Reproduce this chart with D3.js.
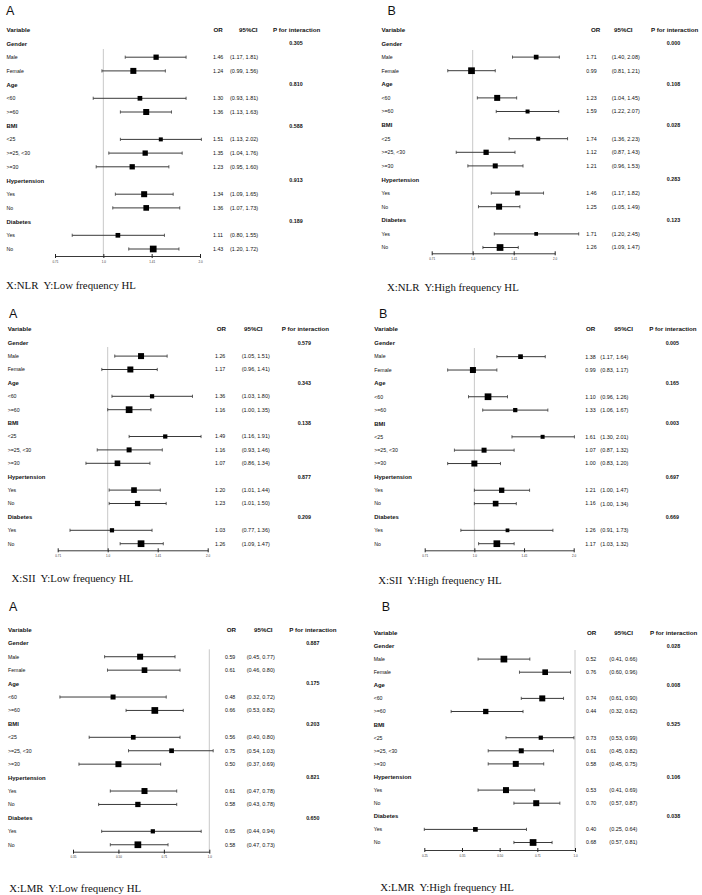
<!DOCTYPE html>
<html>
<head>
<meta charset="utf-8">
<script src="https://cdn.jsdelivr.net/npm/d3@7"></script>
<style>
  body { margin: 0; background: #fff; }
  svg { display: block; }
  .t { font-family: "Liberation Sans", Arial, sans-serif; fill: #111; }
  .b { font-weight: bold; }
  .cap { font-family: "Liberation Serif", "Times New Roman", serif; font-size: 10.8px; fill: #111; white-space: pre; }
  .let { font-family: "Liberation Sans", Arial, sans-serif; font-size: 12.5px; fill: #111; }
</style>
</head>
<body>
<div id="chart"></div>
<script>
var groups = ['Gender', 'Age', 'BMI', 'Hypertension', 'Diabetes'];
var subgroups = [['Male', 'Female'], ['<60', '>=60'], ['<25', '>=25, <30', '>=30'], ['Yes', 'No'], ['Yes', 'No']];

// NLR, low frequency HL
var nlrLowOR = [1.46, 1.24, 1.30, 1.36, 1.51, 1.35, 1.23, 1.34, 1.36, 1.11, 1.43];
var nlrLowLo = [1.17, 0.99, 0.93, 1.13, 1.13, 1.04, 0.95, 1.09, 1.07, 0.80, 1.20];
var nlrLowHi = [1.81, 1.56, 1.81, 1.63, 2.02, 1.76, 1.60, 1.65, 1.73, 1.55, 1.72];
var nlrLowP = ['0.305', '0.810', '0.588', '0.913', '0.189'];
var nlrLowW = [28, 36, 22, 36, 16, 28, 28, 36, 32, 22, 45];

// NLR, high frequency HL
var nlrHighOR = [1.71, 0.99, 1.23, 1.59, 1.74, 1.12, 1.21, 1.46, 1.25, 1.71, 1.26];
var nlrHighLo = [1.40, 0.81, 1.04, 1.22, 1.36, 0.87, 0.96, 1.17, 1.05, 1.20, 1.09];
var nlrHighHi = [2.08, 1.21, 1.45, 2.07, 2.23, 1.43, 1.53, 1.82, 1.49, 2.45, 1.47];
var nlrHighP = ['0.000', '0.108', '0.028', '0.283', '0.123'];
var nlrHighW = [22, 45, 36, 16, 16, 28, 25, 22, 36, 14, 45];

// SII, low frequency HL
var siiLowOR = [1.26, 1.17, 1.36, 1.16, 1.49, 1.16, 1.07, 1.20, 1.23, 1.03, 1.26];
var siiLowLo = [1.05, 0.96, 1.03, 1.00, 1.16, 0.93, 0.86, 1.01, 1.01, 0.77, 1.09];
var siiLowHi = [1.51, 1.41, 1.80, 1.35, 1.91, 1.46, 1.34, 1.44, 1.50, 1.36, 1.47];
var siiLowP = ['0.579', '0.343', '0.138', '0.877', '0.209'];
var siiLowW = [36, 36, 18, 45, 18, 25, 32, 32, 28, 18, 45];

// SII, high frequency HL
var siiHighOR = [1.38, 0.99, 1.10, 1.33, 1.61, 1.07, 1.00, 1.21, 1.16, 1.26, 1.17];
var siiHighLo = [1.17, 0.83, 0.96, 1.06, 1.30, 0.87, 0.83, 1.00, 1.00, 0.91, 1.03];
var siiHighHi = [1.64, 1.17, 1.26, 1.67, 2.01, 1.32, 1.20, 1.47, 1.34, 1.73, 1.32];
var siiHighP = ['0.005', '0.165', '0.003', '0.697', '0.669'];
var siiHighW = [22, 36, 45, 18, 16, 25, 36, 28, 32, 14, 45];

// LMR, low frequency HL
var lmrLowOR = [0.59, 0.61, 0.48, 0.66, 0.56, 0.75, 0.50, 0.61, 0.58, 0.65, 0.58];
var lmrLowLo = [0.45, 0.46, 0.32, 0.53, 0.40, 0.54, 0.37, 0.47, 0.43, 0.44, 0.47];
var lmrLowHi = [0.77, 0.80, 0.72, 0.82, 0.80, 1.03, 0.69, 0.78, 0.78, 0.94, 0.73];
var lmrLowP = ['0.887', '0.175', '0.203', '0.821', '0.650'];
var lmrLowW = [36, 32, 25, 45, 22, 22, 36, 36, 28, 18, 45];

// LMR, high frequency HL
var lmrHighOR = [0.52, 0.76, 0.74, 0.44, 0.73, 0.61, 0.58, 0.53, 0.70, 0.40, 0.68];
var lmrHighLo = [0.41, 0.60, 0.61, 0.32, 0.53, 0.45, 0.45, 0.41, 0.57, 0.25, 0.57];
var lmrHighHi = [0.66, 0.96, 0.90, 0.62, 0.99, 0.82, 0.75, 0.69, 0.87, 0.64, 0.81];
var lmrHighP = ['0.028', '0.008', '0.525', '0.106', '0.038'];
var lmrHighW = [45, 32, 36, 28, 18, 25, 36, 36, 36, 22, 45];

// axis ticks (log2 steps)
var ticksUp = [0.7071, 1, 1.4142, 2];
var ticksUpLbl = ['0.71', '1.0', '1.41', '2.0'];
var ticksLmrLow = [0.3536, 0.5, 0.7071, 1];
var ticksLmrLowLbl = ['0.35', '0.50', '0.71', '1.0'];
var ticksLmrHigh = [0.25, 0.3536, 0.5, 0.7071, 1];
var ticksLmrHighLbl = ['0.25', '0.35', '0.50', '0.71', '1.0'];

(function() {
  'use strict';

  var svgW = 702,
    svgH = 895;

  var svg = d3.select('#chart')
    .append('svg')
    .attr('width', svgW)
    .attr('height', svgH);

  var boxScale = d3.scaleSqrt().domain([0, 45]).range([0, 6.7]);

  // layout of the six panels
  var panels = [
    {letter: 'A', cap: 'X:NLR  Y:Low frequency HL', or: nlrLowOR, lo: nlrLowLo, hi: nlrLowHi, p: nlrLowP, w: nlrLowW,
      ticks: ticksUp, tickLbl: ticksUpLbl,
      letX: 6, letY: 10, labX: 6.5, headY: 30, rowY: 43.5, step: 13.7, axY: 256, ax0: 55, ax1: 200,
      orX: 213, orHX: 213.5, ciX: 230, ciHX: 239, pHX: 273, pX: 296, capX: 6, capY: 285, refTop: 49},
    {letter: 'B', cap: 'X:NLR  Y:High frequency HL', or: nlrHighOR, lo: nlrHighLo, hi: nlrHighHi, p: nlrHighP, w: nlrHighW,
      ticks: ticksUp, tickLbl: ticksUpLbl,
      letX: 387.5, letY: 10, labX: 381.5, headY: 30, rowY: 43.5, step: 13.6, axY: 253.3, ax0: 431.7, ax1: 554.7,
      orX: 586.3, orHX: 591, ciX: 611.7, ciHX: 614, pHX: 651, pX: 673.5, capX: 387, capY: 287, refTop: 50},
    {letter: 'A', cap: 'X:SII  Y:Low frequency HL', or: siiLowOR, lo: siiLowLo, hi: siiLowHi, p: siiLowP, w: siiLowW,
      ticks: ticksUp, tickLbl: ticksUpLbl,
      letX: 9, letY: 313, labX: 7.7, headY: 329.3, rowY: 342.7, step: 13.4, axY: 550.3, ax0: 57.7, ax1: 207.7,
      orX: 215, orHX: 216.7, ciX: 241.7, ciHX: 244, pHX: 281.7, pX: 304.3, capX: 11.5, capY: 578.3, refTop: 347},
    {letter: 'B', cap: 'X:SII  Y:High frequency HL', or: siiHighOR, lo: siiHighLo, hi: siiHighHi, p: siiHighP, w: siiHighW,
      ticks: ticksUp, tickLbl: ticksUpLbl,
      letX: 379, letY: 313, labX: 374.3, headY: 329.3, rowY: 343.3, step: 13.36, axY: 550.3, ax0: 424.7, ax1: 573.7,
      orX: 585.3, orHX: 586, ciX: 600.3, ciHX: 614.3, pHX: 649.3, pX: 672.3, capX: 378.3, capY: 580, refTop: 348},
    {letter: 'A', cap: 'X:LMR  Y:Low frequency HL', or: lmrLowOR, lo: lmrLowLo, hi: lmrLowHi, p: lmrLowP, w: lmrLowW,
      ticks: ticksLmrLow, tickLbl: ticksLmrLowLbl,
      letX: 9, letY: 606.7, labX: 8, headY: 630.3, rowY: 643.3, step: 13.43, axY: 851.7, ax0: 73, ax1: 209.3,
      orX: 225, orHX: 226.7, ciX: 246.7, ciHX: 254, pHX: 289.3, pX: 312.8, capX: 9.3, capY: 888.3, refTop: 649.3},
    {letter: 'B', cap: 'X:LMR  Y:High frequency HL', or: lmrHighOR, lo: lmrHighLo, hi: lmrHighHi, p: lmrHighP, w: lmrHighW,
      ticks: ticksLmrHigh, tickLbl: ticksLmrHighLbl,
      letX: 381.7, letY: 606.7, labX: 373.7, headY: 633.3, rowY: 646, step: 13.1, axY: 850, ax0: 424.3, ax1: 575,
      orX: 586, orHX: 587, ciX: 609.3, ciHX: 614.3, pHX: 650, pX: 673.5, capX: 380.3, capY: 887.7, refTop: 650}
  ];

  panels.forEach(drawPanel);

  function buildRows(pn) {
    var rows = [], k = 0;
    groups.forEach(function(g, gi) {
      rows.push({type: 'group', label: g, p: pn.p[gi]});
      subgroups[gi].forEach(function(s) {
        rows.push({type: 'item', label: s, or: pn.or[k], lo: pn.lo[k], hi: pn.hi[k], w: pn.w[k]});
        k++;
      });
    });
    return rows;
  }

  function drawPanel(pn) {
    var g = svg.append('g');
    var rows = buildRows(pn);
    var items = rows.map(function(r, i) { r.i = i; return r; }).filter(function(r) { return r.type === 'item'; });
    var groupRows = rows.filter(function(r) { return r.type === 'group'; });

    var x = d3.scaleLog()
      .domain([pn.ticks[0], pn.ticks[pn.ticks.length - 1]])
      .range([pn.ax0, pn.ax1]);

    var y = function(i) { return pn.rowY + i * pn.step; };

    g.append('text').attr('class', 'let')
      .attr('x', pn.letX).attr('y', pn.letY).attr('dy', '0.36em')
      .text(pn.letter);

    // header
    var head = [
      {t: 'Variable', x: pn.labX},
      {t: 'OR', x: pn.orHX},
      {t: '95%CI', x: pn.ciHX},
      {t: 'P for interaction', x: pn.pHX}
    ];
    g.selectAll('text.hd')
      .data(head)
      .enter()
      .append('text')
      .attr('class', 't b hd')
      .attr('font-size', 6.2)
      .attr('x', function(d) { return d.x; })
      .attr('y', pn.headY)
      .attr('dy', '0.35em')
      .text(function(d) { return d.t; });

    // reference line at OR = 1
    g.append('line')
      .attr('x1', x(1)).attr('x2', x(1))
      .attr('y1', pn.refTop).attr('y2', pn.axY)
      .attr('stroke', '#c8c8c8')
      .attr('stroke-width', 1);

    // group labels + p for interaction
    g.selectAll('text.grp')
      .data(groupRows)
      .enter()
      .append('text')
      .attr('class', 't b grp')
      .attr('font-size', 5.9)
      .attr('x', pn.labX)
      .attr('y', function(d) { return y(d.i); })
      .attr('dy', '0.35em')
      .text(function(d) { return d.label; });

    g.selectAll('text.pv')
      .data(groupRows)
      .enter()
      .append('text')
      .attr('class', 't b pv')
      .attr('font-size', 5.3)
      .attr('text-anchor', 'middle')
      .attr('x', pn.pX)
      .attr('y', function(d) { return y(d.i); })
      .attr('dy', '0.35em')
      .text(function(d) { return d.p; });

    // subgroup labels, OR, CI text
    g.selectAll('text.lab')
      .data(items)
      .enter()
      .append('text')
      .attr('class', 't lab')
      .attr('font-size', 5.2)
      .attr('x', pn.labX)
      .attr('y', function(d) { return y(d.i); })
      .attr('dy', '0.35em')
      .text(function(d) { return d.label; });

    g.selectAll('text.orv')
      .data(items)
      .enter()
      .append('text')
      .attr('class', 't orv')
      .attr('font-size', 5.3)
      .attr('x', pn.orX)
      .attr('y', function(d) { return y(d.i); })
      .attr('dy', '0.35em')
      .text(function(d) { return d.or.toFixed(2); });

    g.selectAll('text.ci')
      .data(items)
      .enter()
      .append('text')
      .attr('class', 't ci')
      .attr('font-size', 5.5)
      .attr('x', pn.ciX)
      .attr('y', function(d) { return y(d.i); })
      .attr('dy', '0.35em')
      .text(function(d) { return '(' + d.lo.toFixed(2) + ', ' + d.hi.toFixed(2) + ')'; });

    // whiskers
    var ci = g.selectAll('g.ci')
      .data(items)
      .enter()
      .append('g')
      .attr('transform', function(d) { return 'translate(0,' + y(d.i) + ')'; });

    ci.append('line')
      .attr('x1', function(d) { return x(d.lo); })
      .attr('x2', function(d) { return x(d.hi); })
      .attr('stroke', '#3a3a3a')
      .attr('stroke-width', 1);

    ci.append('line')
      .attr('x1', function(d) { return x(d.lo); })
      .attr('x2', function(d) { return x(d.lo); })
      .attr('y1', -1.6).attr('y2', 1.6)
      .attr('stroke', '#3a3a3a')
      .attr('stroke-width', 0.8);

    ci.append('line')
      .attr('x1', function(d) { return x(d.hi); })
      .attr('x2', function(d) { return x(d.hi); })
      .attr('y1', -1.6).attr('y2', 1.6)
      .attr('stroke', '#3a3a3a')
      .attr('stroke-width', 0.8);

    ci.append('rect')
      .attr('x', function(d) { return x(d.or) - boxScale(d.w) / 2; })
      .attr('y', function(d) { return -boxScale(d.w) / 2; })
      .attr('width', function(d) { return boxScale(d.w); })
      .attr('height', function(d) { return boxScale(d.w); })
      .attr('fill', '#000');

    // x axis
    var axis = d3.axisBottom(x)
      .tickValues(pn.ticks)
      .tickFormat(function(d, i) { return pn.tickLbl[i]; })
      .tickSize(2)
      .tickSizeOuter(0)
      .tickPadding(2.5);

    var ax = g.append('g')
      .attr('transform', 'translate(0,' + pn.axY + ')')
      .call(axis);
    ax.select('.domain').attr('stroke', '#222').attr('stroke-width', 0.9);
    ax.selectAll('.tick line').attr('stroke', '#222').attr('y1', -2).attr('y2', 2);
    ax.selectAll('.tick text')
      .attr('font-size', 3)
      .attr('font-family', 'Liberation Sans, Arial, sans-serif')
      .attr('fill', '#333');

    g.append('text').attr('class', 'cap')
      .attr('x', pn.capX).attr('y', pn.capY).attr('dy', '0.35em')
      .text(pn.cap);
  }

}());
</script>
</body>
</html>
